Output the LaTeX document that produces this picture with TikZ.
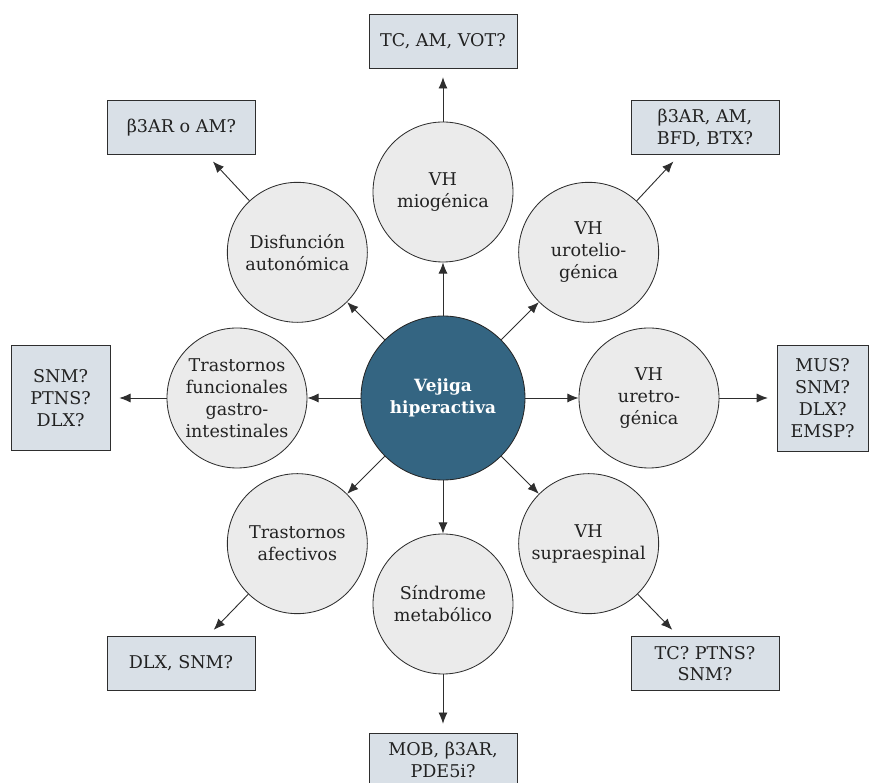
\documentclass[tikz,border=0pt]{standalone}
\usepackage{fontspec}
\setmainfont{DejaVu Serif}
\usepackage{tikz}
\tikzset{node distance=2cm, auto}
\usetikzlibrary{arrows, arrows.meta}
\usetikzlibrary{positioning}

\definecolor{vhblue}{HTML}{346582}
\definecolor{circgray}{HTML}{EBEBEB}
\definecolor{boxblue}{HTML}{D9E0E7}
\definecolor{linegray}{HTML}{2E2E2E}
\definecolor{txtgray}{HTML}{222222}

\begin{document}
\begin{tikzpicture}
\tikzset{
  causa/.style={circle, draw=linegray, line width=0.6pt, fill=circgray, minimum size=3.5cm, inner sep=0pt, align=center, text=txtgray, font=\fontsize{12.5}{15.6}\selectfont},
  trat/.style={rectangle, draw=linegray, line width=0.6pt, fill=boxblue, minimum width=3.7cm, minimum height=1.35cm, inner sep=0pt, align=center, text=txtgray, font=\fontsize{12.5}{15.6}\selectfont},
  flecha/.style={line width=0.65pt, draw=linegray, -{Latex[length=8pt,width=6.5pt]}},
  flechab/.style={flecha, shorten >=0.22cm}
}

\useasboundingbox (-11.075,-9.625) rectangle (10.65,9.95);

% centro
\node[circle, draw=black!85, line width=0.6pt, fill=vhblue, minimum size=4.1cm, inner sep=0pt, align=center, text=white, font=\bfseries\fontsize{12}{15.2}\selectfont] (VH) at (0,0) {Vejiga\\hiperactiva};

% causas
\node[causa] (mio) at (90:5.15) {VH\\miogénica};
\node[causa] (uro) at (45:5.15) {VH\\urotelio-\\génica};
\node[causa] (uret) at (0:5.15) {VH\\uretro-\\génica};
\node[causa] (supra) at (-45:5.15) {VH\\supraespinal};
\node[causa] (sind) at (-90:5.15) {Síndrome\\metabólico};
\node[causa] (afec) at (-135:5.15) {Trastornos\\afectivos};
\node[causa] (gastro) at (180:5.15) {Trastornos\\funcionales\\gastro-\\intestinales};
\node[causa] (disf) at (135:5.15) {Disfunción\\autonómica};

\draw[flecha] (VH) -- (mio);
\draw[flecha] (VH) -- (uro);
\draw[flecha] (VH) -- (uret);
\draw[flecha] (VH) -- (supra);
\draw[flecha] (VH) -- (sind);
\draw[flecha] (VH) -- (afec);
\draw[flecha] (VH) -- (gastro);
\draw[flecha] (VH) -- (disf);

% tratamientos
\node[trat] (mio') at (0,8.925) {TC, AM, VOT?};
\node[trat] (uro') at (6.55,6.76) {β3AR, AM,\\BFD, BTX?};
\node[trat, minimum width=2.275cm, minimum height=2.65cm] (uret') at (9.49,0) {MUS?\\SNM?\\DLX?\\EMSP?};
\node[trat] (supra') at (6.55,-6.64) {TC? PTNS?\\SNM?};
\node[trat] (sind') at (0,-9.05) {MOB, β3AR,\\PDE5i?};
\node[trat] (afec') at (-6.55,-6.64) {DLX, SNM?};
\node[trat, minimum width=2.475cm, minimum height=2.625cm] (gastro') at (-9.56,0) {SNM?\\PTNS?\\DLX?};
\node[trat] (disf') at (-6.54,6.76) {β3AR o AM?};

\draw[flechab] (mio) -- (mio');
\draw[flechab] (uro) -- (uro');
\draw[flechab] (uret) -- (uret');
\draw[flechab] (supra) -- (supra');
\draw[flechab] (sind) -- (sind');
\draw[flechab] (afec) -- (afec');
\draw[flechab] (gastro) -- (gastro');
\draw[flechab] (disf) -- (disf');
\end{tikzpicture}
\end{document}
